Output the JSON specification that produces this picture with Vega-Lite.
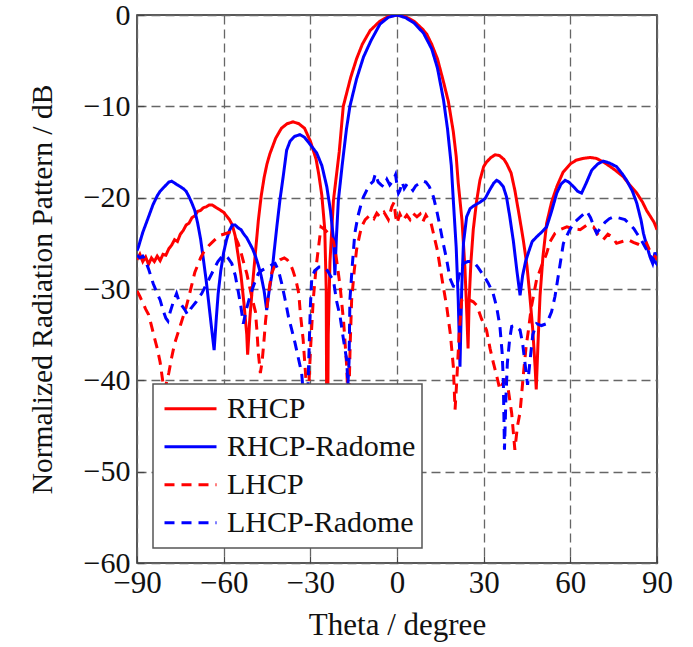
{
  "$schema": "https://vega.github.io/schema/vega-lite/v6.json",
  "width": 520,
  "height": 548,
  "autosize": {"type": "none"},
  "padding": {"left": 137, "top": 15, "right": 36, "bottom": 84},
  "background": "white",
  "config": {
    "view": {"stroke": "#222", "strokeWidth": 1.5},
    "font": "Liberation Serif",
    "axis": {
      "labelFont": "Liberation Serif",
      "titleFont": "Liberation Serif",
      "labelFontSize": 31,
      "titleFontSize": 30.5,
      "titleFontWeight": "normal",
      "labelColor": "#111",
      "titleColor": "#111",
      "domain": false,
      "grid": true,
      "gridColor": "#666",
      "gridDash": [9, 5],
      "gridWidth": 1.3,
      "tickColor": "#444",
      "tickSize": -7,
      "tickWidth": 1.2
    },
    "legend": {
      "labelFont": "Liberation Serif",
      "labelFontSize": 30,
      "labelColor": "#111",
      "labelLimit": 400,
      "fillColor": "white",
      "strokeColor": "#555",
      "strokeWidth": 1.5,
      "padding": 6,
      "symbolOffset": 4,
      "symbolType": "stroke",
      "symbolSize": 2704,
      "symbolStrokeWidth": 3,
      "clipHeight": 37.5,
      "rowPadding": 0,
      "labelOffset": 9
    }
  },
  "data": {"values": [
    {"s":"RHCP","t":-90,"v":-26.8},{"s":"RHCP","t":-89,"v":-26.2},{"s":"RHCP","t":-88,"v":-27.0},{"s":"RHCP","t":-87,"v":-26.5},{"s":"RHCP","t":-86,"v":-27.3},{"s":"RHCP","t":-85,"v":-26.6},{"s":"RHCP","t":-84,"v":-27.0},{"s":"RHCP","t":-83,"v":-26.4},{"s":"RHCP","t":-82,"v":-26.9},{"s":"RHCP","t":-81,"v":-26.2},{"s":"RHCP","t":-80,"v":-26.3},{"s":"RHCP","t":-79,"v":-25.6},{"s":"RHCP","t":-78,"v":-25.2},{"s":"RHCP","t":-77,"v":-24.6},{"s":"RHCP","t":-76,"v":-24.8},{"s":"RHCP","t":-75,"v":-24.0},{"s":"RHCP","t":-74,"v":-23.6},{"s":"RHCP","t":-73,"v":-23.0},{"s":"RHCP","t":-72,"v":-22.8},{"s":"RHCP","t":-71,"v":-22.2},{"s":"RHCP","t":-70,"v":-22.0},{"s":"RHCP","t":-69,"v":-21.5},{"s":"RHCP","t":-68,"v":-21.4},{"s":"RHCP","t":-67,"v":-21.1},{"s":"RHCP","t":-66,"v":-21.0},{"s":"RHCP","t":-65,"v":-20.8},{"s":"RHCP","t":-64,"v":-20.8},{"s":"RHCP","t":-63,"v":-21.0},{"s":"RHCP","t":-62,"v":-21.2},{"s":"RHCP","t":-61,"v":-21.4},{"s":"RHCP","t":-60,"v":-21.6},{"s":"RHCP","t":-59,"v":-22.0},{"s":"RHCP","t":-58,"v":-22.4},{"s":"RHCP","t":-57,"v":-23.0},{"s":"RHCP","t":-56,"v":-24.2},{"s":"RHCP","t":-55,"v":-26.3},{"s":"RHCP","t":-54,"v":-28.5},{"s":"RHCP","t":-53,"v":-31.5},{"s":"RHCP","t":-52,"v":-35},{"s":"RHCP","t":-51.7,"v":-37.2},{"s":"RHCP","t":-51,"v":-33.5},{"s":"RHCP","t":-50,"v":-29.5},{"s":"RHCP","t":-49,"v":-26},{"s":"RHCP","t":-48,"v":-22.5},{"s":"RHCP","t":-47,"v":-19.8},{"s":"RHCP","t":-46,"v":-17.8},{"s":"RHCP","t":-45,"v":-16.3},{"s":"RHCP","t":-44,"v":-15.2},{"s":"RHCP","t":-42,"v":-13.5},{"s":"RHCP","t":-40,"v":-12.4},{"s":"RHCP","t":-38,"v":-11.9},{"s":"RHCP","t":-36,"v":-11.7},{"s":"RHCP","t":-34,"v":-11.9},{"s":"RHCP","t":-32,"v":-12.4},{"s":"RHCP","t":-30,"v":-13.8},{"s":"RHCP","t":-28,"v":-15.8},{"s":"RHCP","t":-27,"v":-17.6},{"s":"RHCP","t":-26,"v":-19.8},{"s":"RHCP","t":-25,"v":-23.5},{"s":"RHCP","t":-24.5,"v":-30},{"s":"RHCP","t":-24.2,"v":-55},{"s":"RHCP","t":-23.8,"v":-35},{"s":"RHCP","t":-23.2,"v":-27},{"s":"RHCP","t":-22,"v":-20.3},{"s":"RHCP","t":-20,"v":-15},{"s":"RHCP","t":-18.6,"v":-10},{"s":"RHCP","t":-16,"v":-6.8},{"s":"RHCP","t":-14,"v":-4.8},{"s":"RHCP","t":-12,"v":-3.2},{"s":"RHCP","t":-9.3,"v":-1.7},{"s":"RHCP","t":-6,"v":-0.7},{"s":"RHCP","t":-3,"v":-0.15},{"s":"RHCP","t":0,"v":0},{"s":"RHCP","t":3,"v":-0.2},{"s":"RHCP","t":6,"v":-0.7},{"s":"RHCP","t":9,"v":-1.6},{"s":"RHCP","t":10.3,"v":-2.1},{"s":"RHCP","t":12,"v":-3.2},{"s":"RHCP","t":14,"v":-4.8},{"s":"RHCP","t":16,"v":-7.2},{"s":"RHCP","t":17.8,"v":-9.5},{"s":"RHCP","t":19.5,"v":-12.8},{"s":"RHCP","t":20.5,"v":-15.5},{"s":"RHCP","t":21.2,"v":-18.4},{"s":"RHCP","t":22.5,"v":-22.5},{"s":"RHCP","t":23.5,"v":-27.6},{"s":"RHCP","t":24.2,"v":-33},{"s":"RHCP","t":24.6,"v":-36.5},{"s":"RHCP","t":25,"v":-31},{"s":"RHCP","t":25.6,"v":-27},{"s":"RHCP","t":26.4,"v":-23.5},{"s":"RHCP","t":27.5,"v":-20.5},{"s":"RHCP","t":28.7,"v":-18.1},{"s":"RHCP","t":30,"v":-16.6},{"s":"RHCP","t":31,"v":-16.1},{"s":"RHCP","t":32.5,"v":-15.6},{"s":"RHCP","t":34,"v":-15.3},{"s":"RHCP","t":35.5,"v":-15.4},{"s":"RHCP","t":37,"v":-15.8},{"s":"RHCP","t":38,"v":-16.3},{"s":"RHCP","t":39.5,"v":-17.3},{"s":"RHCP","t":40.8,"v":-19.2},{"s":"RHCP","t":42.5,"v":-22.3},{"s":"RHCP","t":43.7,"v":-24.6},{"s":"RHCP","t":45,"v":-27.5},{"s":"RHCP","t":46,"v":-30.8},{"s":"RHCP","t":47,"v":-34.5},{"s":"RHCP","t":47.8,"v":-38.5},{"s":"RHCP","t":48.2,"v":-41},{"s":"RHCP","t":48.8,"v":-36},{"s":"RHCP","t":49.5,"v":-30.8},{"s":"RHCP","t":50.5,"v":-26.5},{"s":"RHCP","t":51.8,"v":-22.8},{"s":"RHCP","t":53.5,"v":-20.5},{"s":"RHCP","t":55.3,"v":-18.8},{"s":"RHCP","t":57.5,"v":-17.2},{"s":"RHCP","t":60,"v":-16.3},{"s":"RHCP","t":62,"v":-15.9},{"s":"RHCP","t":64.5,"v":-15.7},{"s":"RHCP","t":67,"v":-15.6},{"s":"RHCP","t":69,"v":-15.7},{"s":"RHCP","t":71.5,"v":-16.1},{"s":"RHCP","t":73.8,"v":-16.6},{"s":"RHCP","t":76,"v":-17.1},{"s":"RHCP","t":78.3,"v":-17.7},{"s":"RHCP","t":80.5,"v":-18.6},{"s":"RHCP","t":83,"v":-19.5},{"s":"RHCP","t":85,"v":-20.5},{"s":"RHCP","t":86.4,"v":-21.4},{"s":"RHCP","t":88,"v":-22.2},{"s":"RHCP","t":89,"v":-22.7},{"s":"RHCP","t":90,"v":-23.5},

    {"s":"RHCP-Radome","t":-90,"v":-25.8},{"s":"RHCP-Radome","t":-89.5,"v":-25.4},{"s":"RHCP-Radome","t":-88,"v":-23.8},{"s":"RHCP-Radome","t":-86,"v":-22.1},{"s":"RHCP-Radome","t":-84.5,"v":-20.8},{"s":"RHCP-Radome","t":-83,"v":-19.8},{"s":"RHCP-Radome","t":-82,"v":-19.3},{"s":"RHCP-Radome","t":-80.5,"v":-18.8},{"s":"RHCP-Radome","t":-79,"v":-18.3},{"s":"RHCP-Radome","t":-78,"v":-18.2},{"s":"RHCP-Radome","t":-77,"v":-18.4},{"s":"RHCP-Radome","t":-76,"v":-18.6},{"s":"RHCP-Radome","t":-75,"v":-18.8},{"s":"RHCP-Radome","t":-74,"v":-19.0},{"s":"RHCP-Radome","t":-73,"v":-19.3},{"s":"RHCP-Radome","t":-72,"v":-19.9},{"s":"RHCP-Radome","t":-71,"v":-20.6},{"s":"RHCP-Radome","t":-70,"v":-21.4},{"s":"RHCP-Radome","t":-69,"v":-22.8},{"s":"RHCP-Radome","t":-68,"v":-24.5},{"s":"RHCP-Radome","t":-67,"v":-26.8},{"s":"RHCP-Radome","t":-66,"v":-29.2},{"s":"RHCP-Radome","t":-65,"v":-32},{"s":"RHCP-Radome","t":-64,"v":-34.8},{"s":"RHCP-Radome","t":-63.3,"v":-36.7},{"s":"RHCP-Radome","t":-62.5,"v":-33},{"s":"RHCP-Radome","t":-61.9,"v":-30.5},{"s":"RHCP-Radome","t":-61,"v":-28},{"s":"RHCP-Radome","t":-60,"v":-26},{"s":"RHCP-Radome","t":-59,"v":-24.6},{"s":"RHCP-Radome","t":-58,"v":-23.6},{"s":"RHCP-Radome","t":-57,"v":-23.0},{"s":"RHCP-Radome","t":-56,"v":-23.0},{"s":"RHCP-Radome","t":-55,"v":-23.3},{"s":"RHCP-Radome","t":-54,"v":-23.5},{"s":"RHCP-Radome","t":-53,"v":-24.0},{"s":"RHCP-Radome","t":-52,"v":-24.4},{"s":"RHCP-Radome","t":-51,"v":-25.0},{"s":"RHCP-Radome","t":-50,"v":-25.6},{"s":"RHCP-Radome","t":-49,"v":-26.4},{"s":"RHCP-Radome","t":-48,"v":-27.4},{"s":"RHCP-Radome","t":-47,"v":-28.6},{"s":"RHCP-Radome","t":-46,"v":-30.2},{"s":"RHCP-Radome","t":-45.1,"v":-32.3},{"s":"RHCP-Radome","t":-44.3,"v":-30.3},{"s":"RHCP-Radome","t":-43.4,"v":-28.6},{"s":"RHCP-Radome","t":-42.5,"v":-25.8},{"s":"RHCP-Radome","t":-41.6,"v":-23.2},{"s":"RHCP-Radome","t":-40.5,"v":-20.2},{"s":"RHCP-Radome","t":-39.4,"v":-17.7},{"s":"RHCP-Radome","t":-38.2,"v":-14.8},{"s":"RHCP-Radome","t":-37,"v":-13.8},{"s":"RHCP-Radome","t":-35.5,"v":-13.3},{"s":"RHCP-Radome","t":-33.6,"v":-13.1},{"s":"RHCP-Radome","t":-32,"v":-13.4},{"s":"RHCP-Radome","t":-30,"v":-14.2},{"s":"RHCP-Radome","t":-27.8,"v":-15.1},{"s":"RHCP-Radome","t":-26,"v":-16.5},{"s":"RHCP-Radome","t":-24.3,"v":-18.8},{"s":"RHCP-Radome","t":-23,"v":-21.5},{"s":"RHCP-Radome","t":-22,"v":-24.5},{"s":"RHCP-Radome","t":-21.5,"v":-28.5},{"s":"RHCP-Radome","t":-21,"v":-24.5},{"s":"RHCP-Radome","t":-20.3,"v":-20.3},{"s":"RHCP-Radome","t":-19,"v":-16.5},{"s":"RHCP-Radome","t":-17.5,"v":-12.5},{"s":"RHCP-Radome","t":-16.3,"v":-10},{"s":"RHCP-Radome","t":-14,"v":-7.0},{"s":"RHCP-Radome","t":-11.6,"v":-4.6},{"s":"RHCP-Radome","t":-9,"v":-2.8},{"s":"RHCP-Radome","t":-5.9,"v":-1.0},{"s":"RHCP-Radome","t":-3,"v":-0.25},{"s":"RHCP-Radome","t":0,"v":0},{"s":"RHCP-Radome","t":3,"v":-0.3},{"s":"RHCP-Radome","t":6,"v":-0.9},{"s":"RHCP-Radome","t":9.2,"v":-2.0},{"s":"RHCP-Radome","t":12,"v":-3.7},{"s":"RHCP-Radome","t":14,"v":-5.8},{"s":"RHCP-Radome","t":16.1,"v":-9.3},{"s":"RHCP-Radome","t":17.5,"v":-12.5},{"s":"RHCP-Radome","t":18.8,"v":-16.5},{"s":"RHCP-Radome","t":19.5,"v":-20.3},{"s":"RHCP-Radome","t":20.5,"v":-25.5},{"s":"RHCP-Radome","t":21.2,"v":-31.2},{"s":"RHCP-Radome","t":21.8,"v":-38.5},{"s":"RHCP-Radome","t":22.4,"v":-30},{"s":"RHCP-Radome","t":23,"v":-25},{"s":"RHCP-Radome","t":24.1,"v":-22.1},{"s":"RHCP-Radome","t":25.3,"v":-21.2},{"s":"RHCP-Radome","t":26.5,"v":-20.9},{"s":"RHCP-Radome","t":27.6,"v":-20.7},{"s":"RHCP-Radome","t":28.7,"v":-20.5},{"s":"RHCP-Radome","t":30.5,"v":-20.1},{"s":"RHCP-Radome","t":32,"v":-19.2},{"s":"RHCP-Radome","t":33.5,"v":-18.4},{"s":"RHCP-Radome","t":34.5,"v":-18.1},{"s":"RHCP-Radome","t":35.5,"v":-18.3},{"s":"RHCP-Radome","t":36.8,"v":-18.8},{"s":"RHCP-Radome","t":37.9,"v":-19.9},{"s":"RHCP-Radome","t":39,"v":-22},{"s":"RHCP-Radome","t":40.3,"v":-24.8},{"s":"RHCP-Radome","t":41.5,"v":-28},{"s":"RHCP-Radome","t":42.6,"v":-30.7},{"s":"RHCP-Radome","t":43.5,"v":-28.5},{"s":"RHCP-Radome","t":44.5,"v":-27.0},{"s":"RHCP-Radome","t":45.5,"v":-26.0},{"s":"RHCP-Radome","t":46.8,"v":-24.8},{"s":"RHCP-Radome","t":48.3,"v":-24.3},{"s":"RHCP-Radome","t":50,"v":-23.8},{"s":"RHCP-Radome","t":51.8,"v":-23.2},{"s":"RHCP-Radome","t":53.5,"v":-21.5},{"s":"RHCP-Radome","t":55.3,"v":-19.5},{"s":"RHCP-Radome","t":56.8,"v":-18.5},{"s":"RHCP-Radome","t":58.2,"v":-18.1},{"s":"RHCP-Radome","t":59.5,"v":-18.3},{"s":"RHCP-Radome","t":61.1,"v":-18.8},{"s":"RHCP-Radome","t":62.5,"v":-19.3},{"s":"RHCP-Radome","t":63.9,"v":-19.5},{"s":"RHCP-Radome","t":65.5,"v":-18.4},{"s":"RHCP-Radome","t":67.4,"v":-17.0},{"s":"RHCP-Radome","t":69.5,"v":-16.3},{"s":"RHCP-Radome","t":71.4,"v":-16.0},{"s":"RHCP-Radome","t":73.5,"v":-16.2},{"s":"RHCP-Radome","t":76,"v":-16.6},{"s":"RHCP-Radome","t":78,"v":-17.4},{"s":"RHCP-Radome","t":79.5,"v":-18.1},{"s":"RHCP-Radome","t":81.5,"v":-19.3},{"s":"RHCP-Radome","t":83,"v":-20.6},{"s":"RHCP-Radome","t":84.5,"v":-22.5},{"s":"RHCP-Radome","t":85.3,"v":-23.9},{"s":"RHCP-Radome","t":86.4,"v":-25.2},{"s":"RHCP-Radome","t":87.6,"v":-26.5},{"s":"RHCP-Radome","t":88.5,"v":-27.2},{"s":"RHCP-Radome","t":89.3,"v":-26.0},{"s":"RHCP-Radome","t":90,"v":-26.8},

    {"s":"LHCP","t":-90,"v":-30.2},{"s":"LHCP","t":-89,"v":-30.8},{"s":"LHCP","t":-88,"v":-31.5},{"s":"LHCP","t":-87,"v":-32.2},{"s":"LHCP","t":-86,"v":-32.8},{"s":"LHCP","t":-85,"v":-34},{"s":"LHCP","t":-84,"v":-35.3},{"s":"LHCP","t":-83,"v":-36.5},{"s":"LHCP","t":-82,"v":-38},{"s":"LHCP","t":-81,"v":-40.3},{"s":"LHCP","t":-80.5,"v":-42},{"s":"LHCP","t":-80,"v":-40.5},{"s":"LHCP","t":-79,"v":-39.2},{"s":"LHCP","t":-78,"v":-37.5},{"s":"LHCP","t":-77,"v":-36},{"s":"LHCP","t":-76,"v":-35},{"s":"LHCP","t":-75,"v":-34},{"s":"LHCP","t":-74,"v":-33},{"s":"LHCP","t":-73,"v":-32},{"s":"LHCP","t":-72,"v":-30.8},{"s":"LHCP","t":-71,"v":-29.5},{"s":"LHCP","t":-70,"v":-28.2},{"s":"LHCP","t":-69,"v":-27.4},{"s":"LHCP","t":-68,"v":-26.6},{"s":"LHCP","t":-67,"v":-26},{"s":"LHCP","t":-66,"v":-25.6},{"s":"LHCP","t":-65,"v":-25.2},{"s":"LHCP","t":-64,"v":-24.9},{"s":"LHCP","t":-63,"v":-24.6},{"s":"LHCP","t":-62,"v":-24.3},{"s":"LHCP","t":-61,"v":-24.1},{"s":"LHCP","t":-60,"v":-24.0},{"s":"LHCP","t":-59,"v":-23.9},{"s":"LHCP","t":-58,"v":-23.8},{"s":"LHCP","t":-57,"v":-23.9},{"s":"LHCP","t":-56,"v":-24.3},{"s":"LHCP","t":-55,"v":-25.0},{"s":"LHCP","t":-54,"v":-26},{"s":"LHCP","t":-53,"v":-27.2},{"s":"LHCP","t":-52,"v":-28.3},{"s":"LHCP","t":-51,"v":-29.8},{"s":"LHCP","t":-50,"v":-31.2},{"s":"LHCP","t":-49,"v":-32.5},{"s":"LHCP","t":-48.5,"v":-34.5},{"s":"LHCP","t":-48,"v":-37},{"s":"LHCP","t":-47.3,"v":-39.2},{"s":"LHCP","t":-46.7,"v":-38},{"s":"LHCP","t":-46,"v":-35.5},{"s":"LHCP","t":-45.5,"v":-33.5},{"s":"LHCP","t":-44.5,"v":-30.5},{"s":"LHCP","t":-43.4,"v":-28.3},{"s":"LHCP","t":-42,"v":-27.2},{"s":"LHCP","t":-40.5,"v":-26.8},{"s":"LHCP","t":-39,"v":-26.6},{"s":"LHCP","t":-38,"v":-26.8},{"s":"LHCP","t":-37,"v":-27.2},{"s":"LHCP","t":-36,"v":-28},{"s":"LHCP","t":-35,"v":-29},{"s":"LHCP","t":-34,"v":-30.5},{"s":"LHCP","t":-33.5,"v":-32.5},{"s":"LHCP","t":-32.5,"v":-35.5},{"s":"LHCP","t":-31.5,"v":-40},{"s":"LHCP","t":-31,"v":-44},{"s":"LHCP","t":-30,"v":-37},{"s":"LHCP","t":-29,"v":-31.2},{"s":"LHCP","t":-28,"v":-27.6},{"s":"LHCP","t":-27,"v":-25},{"s":"LHCP","t":-26.3,"v":-23.2},{"s":"LHCP","t":-25,"v":-23.5},{"s":"LHCP","t":-24,"v":-23.8},{"s":"LHCP","t":-23,"v":-24.2},{"s":"LHCP","t":-22,"v":-24.8},{"s":"LHCP","t":-21,"v":-26.6},{"s":"LHCP","t":-19.7,"v":-29.7},{"s":"LHCP","t":-18.5,"v":-33.5},{"s":"LHCP","t":-17.4,"v":-38.5},{"s":"LHCP","t":-16.8,"v":-44},{"s":"LHCP","t":-16.2,"v":-36},{"s":"LHCP","t":-15.7,"v":-31.2},{"s":"LHCP","t":-14.8,"v":-28},{"s":"LHCP","t":-14,"v":-25.7},{"s":"LHCP","t":-13,"v":-24.2},{"s":"LHCP","t":-12.3,"v":-23.2},{"s":"LHCP","t":-11,"v":-22.4},{"s":"LHCP","t":-9.3,"v":-21.9},{"s":"LHCP","t":-8,"v":-22.3},{"s":"LHCP","t":-7,"v":-21.7},{"s":"LHCP","t":-5.9,"v":-22.1},{"s":"LHCP","t":-4.5,"v":-21.6},{"s":"LHCP","t":-3,"v":-22.4},{"s":"LHCP","t":-1.8,"v":-21.0},{"s":"LHCP","t":-1,"v":-20.5},{"s":"LHCP","t":-0.5,"v":-22.0},{"s":"LHCP","t":0,"v":-22.8},{"s":"LHCP","t":1,"v":-21.8},{"s":"LHCP","t":2,"v":-22.5},{"s":"LHCP","t":3.4,"v":-21.9},{"s":"LHCP","t":4.5,"v":-22.4},{"s":"LHCP","t":5.5,"v":-21.7},{"s":"LHCP","t":6.9,"v":-22.1},{"s":"LHCP","t":8,"v":-21.8},{"s":"LHCP","t":9,"v":-22.6},{"s":"LHCP","t":10,"v":-21.9},{"s":"LHCP","t":10.9,"v":-22.4},{"s":"LHCP","t":11.8,"v":-22.8},{"s":"LHCP","t":12.6,"v":-23.9},{"s":"LHCP","t":14,"v":-25.8},{"s":"LHCP","t":14.9,"v":-27.6},{"s":"LHCP","t":16,"v":-29.7},{"s":"LHCP","t":17.2,"v":-31.9},{"s":"LHCP","t":18.5,"v":-35},{"s":"LHCP","t":19.5,"v":-38.5},{"s":"LHCP","t":20.1,"v":-43.2},{"s":"LHCP","t":20.7,"v":-40},{"s":"LHCP","t":21.5,"v":-35},{"s":"LHCP","t":22.4,"v":-31.2},{"s":"LHCP","t":23.5,"v":-30.9},{"s":"LHCP","t":25,"v":-31.2},{"s":"LHCP","t":26.4,"v":-31.4},{"s":"LHCP","t":27.6,"v":-31.8},{"s":"LHCP","t":29.3,"v":-33.3},{"s":"LHCP","t":31,"v":-34.5},{"s":"LHCP","t":32.2,"v":-36.5},{"s":"LHCP","t":33.3,"v":-38},{"s":"LHCP","t":34.5,"v":-39.5},{"s":"LHCP","t":35.6,"v":-41},{"s":"LHCP","t":36.5,"v":-40.4},{"s":"LHCP","t":37.4,"v":-40},{"s":"LHCP","t":38.5,"v":-41},{"s":"LHCP","t":39.7,"v":-43.6},{"s":"LHCP","t":40.8,"v":-47.6},{"s":"LHCP","t":41.7,"v":-45},{"s":"LHCP","t":42.6,"v":-43.5},{"s":"LHCP","t":43.7,"v":-39.5},{"s":"LHCP","t":44.7,"v":-36.3},{"s":"LHCP","t":45.5,"v":-34.5},{"s":"LHCP","t":46.5,"v":-32},{"s":"LHCP","t":48.3,"v":-29.0},{"s":"LHCP","t":50,"v":-27.5},{"s":"LHCP","t":51.8,"v":-26.1},{"s":"LHCP","t":53,"v":-24.8},{"s":"LHCP","t":54.7,"v":-23.9},{"s":"LHCP","t":56.5,"v":-23.5},{"s":"LHCP","t":58.8,"v":-23.2},{"s":"LHCP","t":61,"v":-23.4},{"s":"LHCP","t":63.4,"v":-23.5},{"s":"LHCP","t":65.7,"v":-23.0},{"s":"LHCP","t":68,"v":-23.2},{"s":"LHCP","t":69.5,"v":-24.0},{"s":"LHCP","t":71.4,"v":-24.6},{"s":"LHCP","t":73,"v":-24.0},{"s":"LHCP","t":74.5,"v":-24.3},{"s":"LHCP","t":76,"v":-25.0},{"s":"LHCP","t":78,"v":-24.8},{"s":"LHCP","t":80,"v":-24.6},{"s":"LHCP","t":81.8,"v":-24.9},{"s":"LHCP","t":83.5,"v":-25.1},{"s":"LHCP","t":85.3,"v":-25.4},{"s":"LHCP","t":86.4,"v":-25.0},{"s":"LHCP","t":87.5,"v":-25.8},{"s":"LHCP","t":88.5,"v":-26.2},{"s":"LHCP","t":89.5,"v":-26.5},{"s":"LHCP","t":90,"v":-26.8},

    {"s":"LHCP-Radome","t":-90,"v":-26.3},{"s":"LHCP-Radome","t":-89,"v":-26.6},{"s":"LHCP-Radome","t":-88,"v":-26.4},{"s":"LHCP-Radome","t":-87.2,"v":-26.8},{"s":"LHCP-Radome","t":-86,"v":-27.8},{"s":"LHCP-Radome","t":-85,"v":-28.8},{"s":"LHCP-Radome","t":-84.4,"v":-29.4},{"s":"LHCP-Radome","t":-83,"v":-30.5},{"s":"LHCP-Radome","t":-82,"v":-31.2},{"s":"LHCP-Radome","t":-81,"v":-32.3},{"s":"LHCP-Radome","t":-80,"v":-33.2},{"s":"LHCP-Radome","t":-79.3,"v":-33.5},{"s":"LHCP-Radome","t":-78.5,"v":-32.5},{"s":"LHCP-Radome","t":-77.5,"v":-31.5},{"s":"LHCP-Radome","t":-76.3,"v":-30.5},{"s":"LHCP-Radome","t":-75.5,"v":-31.3},{"s":"LHCP-Radome","t":-74.5,"v":-31.8},{"s":"LHCP-Radome","t":-73.4,"v":-32.3},{"s":"LHCP-Radome","t":-72.5,"v":-32.8},{"s":"LHCP-Radome","t":-71.5,"v":-32.2},{"s":"LHCP-Radome","t":-70.5,"v":-31.8},{"s":"LHCP-Radome","t":-69.5,"v":-31.4},{"s":"LHCP-Radome","t":-68.5,"v":-30.9},{"s":"LHCP-Radome","t":-67.6,"v":-30.5},{"s":"LHCP-Radome","t":-66.5,"v":-29.8},{"s":"LHCP-Radome","t":-65.5,"v":-29.2},{"s":"LHCP-Radome","t":-64.1,"v":-28.3},{"s":"LHCP-Radome","t":-63,"v":-27.6},{"s":"LHCP-Radome","t":-62,"v":-27.0},{"s":"LHCP-Radome","t":-60.7,"v":-26.5},{"s":"LHCP-Radome","t":-59.5,"v":-26.3},{"s":"LHCP-Radome","t":-58.5,"v":-26.6},{"s":"LHCP-Radome","t":-57.2,"v":-27.2},{"s":"LHCP-Radome","t":-56,"v":-28.5},{"s":"LHCP-Radome","t":-55,"v":-30.2},{"s":"LHCP-Radome","t":-54,"v":-32.0},{"s":"LHCP-Radome","t":-53.2,"v":-33.8},{"s":"LHCP-Radome","t":-52.2,"v":-32.3},{"s":"LHCP-Radome","t":-50.9,"v":-30.8},{"s":"LHCP-Radome","t":-49.5,"v":-29.5},{"s":"LHCP-Radome","t":-48,"v":-28.3},{"s":"LHCP-Radome","t":-46.5,"v":-27.9},{"s":"LHCP-Radome","t":-44.5,"v":-27.6},{"s":"LHCP-Radome","t":-43,"v":-27.3},{"s":"LHCP-Radome","t":-42.2,"v":-27.2},{"s":"LHCP-Radome","t":-41,"v":-28.0},{"s":"LHCP-Radome","t":-39.9,"v":-29.4},{"s":"LHCP-Radome","t":-38.7,"v":-31.2},{"s":"LHCP-Radome","t":-37.6,"v":-33.0},{"s":"LHCP-Radome","t":-36.4,"v":-34.5},{"s":"LHCP-Radome","t":-35.3,"v":-35.9},{"s":"LHCP-Radome","t":-34.2,"v":-37.5},{"s":"LHCP-Radome","t":-33,"v":-39.2},{"s":"LHCP-Radome","t":-32.3,"v":-42},{"s":"LHCP-Radome","t":-31.5,"v":-44},{"s":"LHCP-Radome","t":-30.8,"v":-40.5},{"s":"LHCP-Radome","t":-30,"v":-32},{"s":"LHCP-Radome","t":-29.5,"v":-28.8},{"s":"LHCP-Radome","t":-28.5,"v":-28.0},{"s":"LHCP-Radome","t":-27,"v":-27.6},{"s":"LHCP-Radome","t":-25.5,"v":-27.6},{"s":"LHCP-Radome","t":-24,"v":-28.0},{"s":"LHCP-Radome","t":-23,"v":-28.6},{"s":"LHCP-Radome","t":-22,"v":-29.0},{"s":"LHCP-Radome","t":-21,"v":-31.2},{"s":"LHCP-Radome","t":-19.7,"v":-33.0},{"s":"LHCP-Radome","t":-18.5,"v":-35.6},{"s":"LHCP-Radome","t":-17.4,"v":-37.8},{"s":"LHCP-Radome","t":-17,"v":-40.5},{"s":"LHCP-Radome","t":-16.6,"v":-38},{"s":"LHCP-Radome","t":-16.3,"v":-31.2},{"s":"LHCP-Radome","t":-15.5,"v":-27.5},{"s":"LHCP-Radome","t":-14.6,"v":-23.9},{"s":"LHCP-Radome","t":-13.5,"v":-22},{"s":"LHCP-Radome","t":-12.5,"v":-20.8},{"s":"LHCP-Radome","t":-11.6,"v":-19.9},{"s":"LHCP-Radome","t":-10.5,"v":-19.2},{"s":"LHCP-Radome","t":-9.5,"v":-18.6},{"s":"LHCP-Radome","t":-8.2,"v":-18.2},{"s":"LHCP-Radome","t":-7.5,"v":-17.4},{"s":"LHCP-Radome","t":-6.5,"v":-18.3},{"s":"LHCP-Radome","t":-5.5,"v":-18.6},{"s":"LHCP-Radome","t":-4.7,"v":-18.8},{"s":"LHCP-Radome","t":-3.5,"v":-18.0},{"s":"LHCP-Radome","t":-2.5,"v":-18.6},{"s":"LHCP-Radome","t":-1.3,"v":-18.1},{"s":"LHCP-Radome","t":-0.5,"v":-17.5},{"s":"LHCP-Radome","t":0,"v":-18.6},{"s":"LHCP-Radome","t":0.5,"v":-19.5},{"s":"LHCP-Radome","t":1,"v":-19.2},{"s":"LHCP-Radome","t":1.8,"v":-18.3},{"s":"LHCP-Radome","t":2.5,"v":-19.0},{"s":"LHCP-Radome","t":3.5,"v":-18.5},{"s":"LHCP-Radome","t":4.5,"v":-18.8},{"s":"LHCP-Radome","t":5.5,"v":-19.2},{"s":"LHCP-Radome","t":6.5,"v":-18.7},{"s":"LHCP-Radome","t":7.5,"v":-18.5},{"s":"LHCP-Radome","t":8.5,"v":-18.4},{"s":"LHCP-Radome","t":9.1,"v":-18.2},{"s":"LHCP-Radome","t":10,"v":-18.3},{"s":"LHCP-Radome","t":11.2,"v":-18.8},{"s":"LHCP-Radome","t":12.6,"v":-19.9},{"s":"LHCP-Radome","t":13.8,"v":-21.5},{"s":"LHCP-Radome","t":14.9,"v":-23.2},{"s":"LHCP-Radome","t":16,"v":-25},{"s":"LHCP-Radome","t":17.2,"v":-26.8},{"s":"LHCP-Radome","t":18.3,"v":-28.8},{"s":"LHCP-Radome","t":19.5,"v":-29.7},{"s":"LHCP-Radome","t":20.7,"v":-29.8},{"s":"LHCP-Radome","t":21.5,"v":-28.5},{"s":"LHCP-Radome","t":23,"v":-27.2},{"s":"LHCP-Radome","t":24.5,"v":-27.0},{"s":"LHCP-Radome","t":26.4,"v":-27.0},{"s":"LHCP-Radome","t":28,"v":-27.6},{"s":"LHCP-Radome","t":29.9,"v":-28.5},{"s":"LHCP-Radome","t":31.5,"v":-29.3},{"s":"LHCP-Radome","t":33.3,"v":-30.5},{"s":"LHCP-Radome","t":34.5,"v":-32},{"s":"LHCP-Radome","t":35.6,"v":-34.0},{"s":"LHCP-Radome","t":36.4,"v":-37},{"s":"LHCP-Radome","t":36.8,"v":-40},{"s":"LHCP-Radome","t":37.2,"v":-47.6},{"s":"LHCP-Radome","t":37.7,"v":-42},{"s":"LHCP-Radome","t":38.2,"v":-38.1},{"s":"LHCP-Radome","t":39,"v":-35.5},{"s":"LHCP-Radome","t":39.7,"v":-34.1},{"s":"LHCP-Radome","t":41,"v":-34},{"s":"LHCP-Radome","t":42.6,"v":-34.5},{"s":"LHCP-Radome","t":43.5,"v":-36},{"s":"LHCP-Radome","t":44.3,"v":-38.1},{"s":"LHCP-Radome","t":45.2,"v":-40.5},{"s":"LHCP-Radome","t":46,"v":-38},{"s":"LHCP-Radome","t":47,"v":-35},{"s":"LHCP-Radome","t":48.3,"v":-33.8},{"s":"LHCP-Radome","t":50,"v":-34},{"s":"LHCP-Radome","t":51.8,"v":-33.8},{"s":"LHCP-Radome","t":53.5,"v":-32.5},{"s":"LHCP-Radome","t":54.7,"v":-30.8},{"s":"LHCP-Radome","t":56,"v":-28.2},{"s":"LHCP-Radome","t":57.6,"v":-25.0},{"s":"LHCP-Radome","t":59.5,"v":-23.7},{"s":"LHCP-Radome","t":61.1,"v":-22.8},{"s":"LHCP-Radome","t":63.5,"v":-22.1},{"s":"LHCP-Radome","t":65.7,"v":-21.5},{"s":"LHCP-Radome","t":67,"v":-22.2},{"s":"LHCP-Radome","t":68.2,"v":-23.2},{"s":"LHCP-Radome","t":69.1,"v":-23.9},{"s":"LHCP-Radome","t":70.5,"v":-23.3},{"s":"LHCP-Radome","t":72,"v":-22.7},{"s":"LHCP-Radome","t":73.5,"v":-22.3},{"s":"LHCP-Radome","t":74.9,"v":-22.1},{"s":"LHCP-Radome","t":76.5,"v":-22.2},{"s":"LHCP-Radome","t":78.9,"v":-22.4},{"s":"LHCP-Radome","t":80.5,"v":-22.9},{"s":"LHCP-Radome","t":82,"v":-23.4},{"s":"LHCP-Radome","t":83,"v":-23.9},{"s":"LHCP-Radome","t":84.5,"v":-24.6},{"s":"LHCP-Radome","t":86.4,"v":-25.7},{"s":"LHCP-Radome","t":88,"v":-26.5},{"s":"LHCP-Radome","t":89,"v":-26.9},{"s":"LHCP-Radome","t":89.8,"v":-27.2},{"s":"LHCP-Radome","t":90,"v":-27.0}
  ]},
  "encoding": {
    "x": {"field": "t", "type": "quantitative",
      "scale": {"domain": [-90, 90], "nice": false, "zero": false},
      "axis": {"values": [-90, -60, -30, 0, 30, 60, 90], "title": "Theta / degree", "titleFontSize": 31, "labelPadding": 12, "titlePadding": 12, "labelFlush": false}},
    "y": {"field": "v", "type": "quantitative",
      "scale": {"domain": [-60, 0], "nice": false, "zero": false},
      "axis": {"values": [-60, -50, -40, -30, -20, -10, 0], "title": "Normalized Radiation Pattern / dB", "labelFontSize": 30, "titleFontSize": 29.5, "labelPadding": 14, "titlePadding": 26, "labelFlush": false}},
    "color": {"field": "s", "type": "nominal",
      "scale": {"domain": ["RHCP", "RHCP-Radome", "LHCP", "LHCP-Radome"], "range": ["#ff0000", "#0000ff", "#ff0000", "#0000ff"]},
      "legend": {"title": null, "orient": "none", "legendX": 16, "legendY": 369}},
    "strokeDash": {"field": "s", "type": "nominal",
      "scale": {"domain": ["RHCP", "RHCP-Radome", "LHCP", "LHCP-Radome"], "range": [[1, 0], [1, 0], [10, 7], [10, 7]]},
      "legend": {"title": null, "orient": "none", "legendX": 16, "legendY": 369}}
  },
  "layer": [
    {"transform": [{"filter": "datum.s === 'RHCP'"}], "mark": {"type": "line", "strokeWidth": 3, "clip": true}},
    {"transform": [{"filter": "datum.s === 'RHCP-Radome'"}], "mark": {"type": "line", "strokeWidth": 3, "clip": true}},
    {"transform": [{"filter": "datum.s === 'LHCP'"}], "mark": {"type": "line", "strokeWidth": 3, "clip": true}},
    {"transform": [{"filter": "datum.s === 'LHCP-Radome'"}], "mark": {"type": "line", "strokeWidth": 3, "clip": true}}
  ]
}
